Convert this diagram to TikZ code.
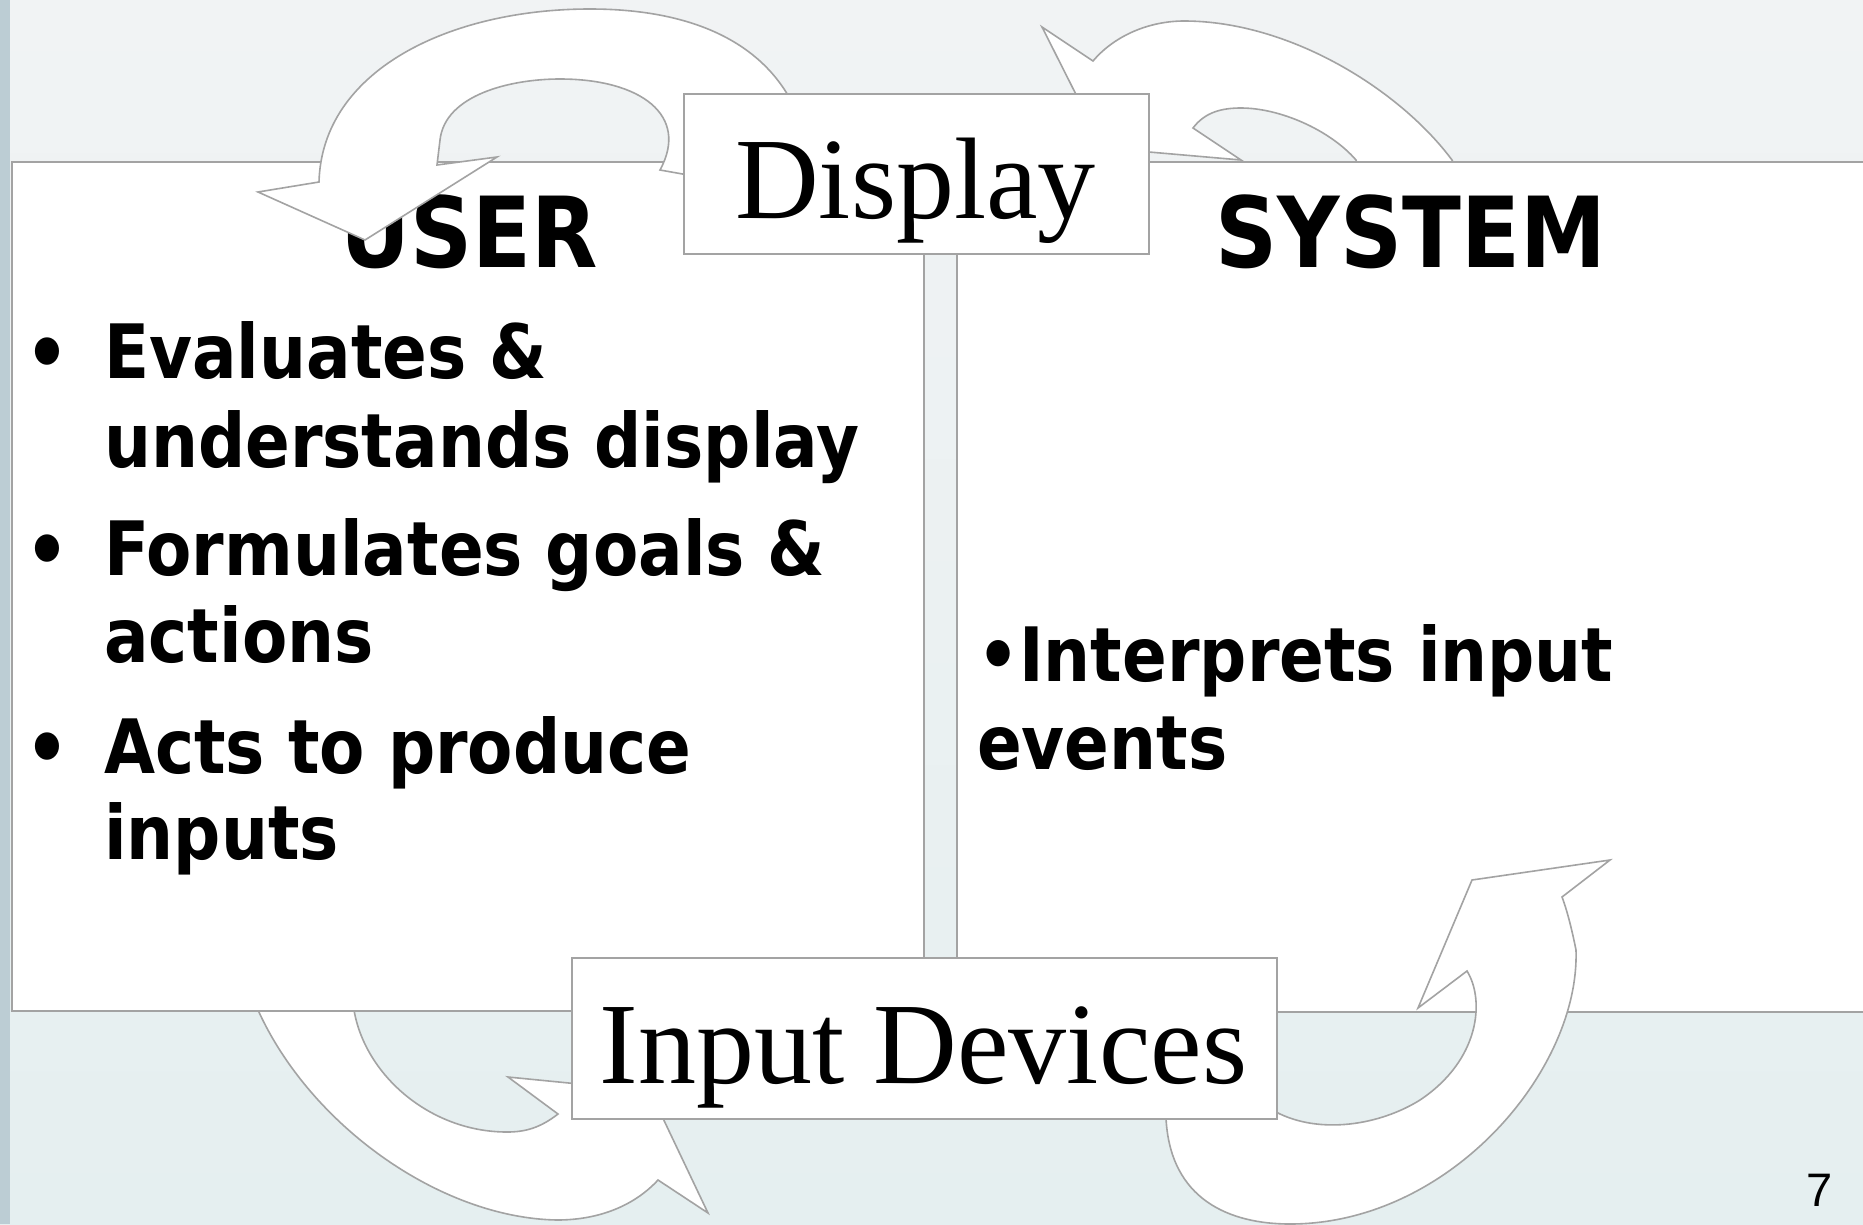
\documentclass[tikz,border=0pt]{standalone}
\usepackage{fontspec}
\newfontfamily\dvs{DejaVu Sans}[FakeStretch=0.88]
\newfontfamily\lserif{Liberation Serif}
\newfontfamily\lsans{Liberation Sans}
\definecolor{edge}{HTML}{A3A3A3}
\definecolor{bgtop}{HTML}{F1F3F4}
\definecolor{bgbot}{HTML}{E5EFF0}
\definecolor{strip}{HTML}{BCCDD4}
\tikzset{
  blockarrow/.style={fill=white, draw=edge, line width=1.6pt, line join=miter},
  panel/.style={fill=white, draw=edge, line width=2pt, inner sep=0pt, anchor=north west},
  labelbox/.style={fill=white, draw=edge, line width=2pt, inner sep=0pt, anchor=north west},
  headtext/.style={font=\dvs\bfseries\fontsize{98}{98}\selectfont, inner sep=0pt, anchor=base},
  itemtext/.style={font=\dvs\bfseries\fontsize{75}{75}\selectfont, inner sep=0pt, anchor=base west},
  bullettext/.style={font=\dvs\bfseries\fontsize{78}{78}\selectfont, inner sep=0pt, anchor=base},
  bigserif/.style={font=\lserif\fontsize{116}{116}\selectfont, inner sep=0pt, anchor=base},
}
\begin{document}
\begin{tikzpicture}[x=1pt,y=-1pt]
\useasboundingbox (0,0) rectangle (1863,1224);
\clip (0,0) rectangle (1863,1224);
% background
\shade[top color=bgtop, bottom color=bgbot] (0,0) rectangle (1863,1224);
\fill[strip] (0,0) rectangle (10,1224);

% arrows whose tails lie behind the panels
\draw[blockarrow] (1103,148) -- (1042,27) -- (1093,61)
  .. controls (1115,35) and (1150,21) .. (1184,21)
  .. controls (1290,21) and (1400,90) .. (1452,160) -- (1480,220) -- (1370,220) -- (1356,160)
  .. controls (1330,130) and (1280,108) .. (1241,108)
  .. controls (1222,108) and (1205,112) .. (1193,128) -- (1241,160) -- cycle;
\draw[blockarrow] (255,960) -- (258,1010)
  .. controls (310,1125) and (440,1218) .. (557,1220)
  .. controls (600,1220) and (635,1205) .. (658,1180) -- (708,1213) -- (650,1091) -- (508,1077) -- (558,1114)
  .. controls (540,1128) and (525,1132) .. (507,1132)
  .. controls (430,1132) and (365,1075) .. (354,1010) -- (348,960) -- cycle;

% panels
\node[panel, minimum width=912pt, minimum height=849pt] (userpanel) at (11,161) {};
\node[panel, minimum width=940pt, minimum height=850pt] (syspanel) at (956,161) {};

% panel texts
\node[headtext] (usertitle) at (469,267) {USER};
\node[headtext] (systitle) at (1411,267) {SYSTEM};

\node[bullettext] (b1) at (47,380) {•};
\node[itemtext] (l1) at (104,378) {Evaluates \&};
\node[itemtext] (l2) at (104,467) {understands display};
\node[bullettext] (b2) at (47,577) {•};
\node[itemtext] (l3) at (104,575) {Formulates goals \&};
\node[itemtext] (l4) at (104,662) {actions};
\node[bullettext] (b3) at (47,775) {•};
\node[itemtext] (l5) at (104,773) {Acts to produce};
\node[itemtext] (l6) at (104,859) {inputs};

\node[itemtext] (r1) at (977,681) {•Interprets input};
\node[itemtext] (r2) at (977,769) {events};

% arrows whose heads lie over the panels
\draw[blockarrow] (800,115) -- (786,92)
  .. controls (750,35) and (680,9) .. (590,9)
  .. controls (450,9) and (322,70) .. (319,182) -- (258,192) -- (365,240) -- (497,157) -- (437,165) -- (440,140)
  .. controls (445,95) and (510,79) .. (560,79)
  .. controls (640,79) and (690,115) .. (660,170) -- (705,178) -- (745,178) -- cycle;
\draw[blockarrow] (1160,1080) -- (1166,1118)
  .. controls (1170,1200) and (1230,1224) .. (1290,1224)
  .. controls (1450,1224) and (1580,1070) .. (1576,950)
  .. controls (1572,930) and (1567,910) .. (1562,897) -- (1610,860) -- (1472,880) -- (1418,1008) -- (1467,971)
  .. controls (1485,1000) and (1480,1060) .. (1420,1100)
  .. controls (1380,1125) and (1320,1135) .. (1276,1112) -- (1250,1080) -- cycle;

% label boxes
\node[labelbox, minimum width=465pt, minimum height=160pt] (displaybox) at (683,93) {};
\node[bigserif] (displaytext) at (915.5,218) {Display};
\node[labelbox, minimum width=705pt, minimum height=161pt] (inputbox) at (571,957) {};
\node[bigserif] (inputtext) at (923.5,1083) {Input Devices};

% page number
\node[font=\lsans\fontsize{47}{47}\selectfont, inner sep=0pt, anchor=base] (pagenum) at (1820,1206) {7};
\end{tikzpicture}
\end{document}
